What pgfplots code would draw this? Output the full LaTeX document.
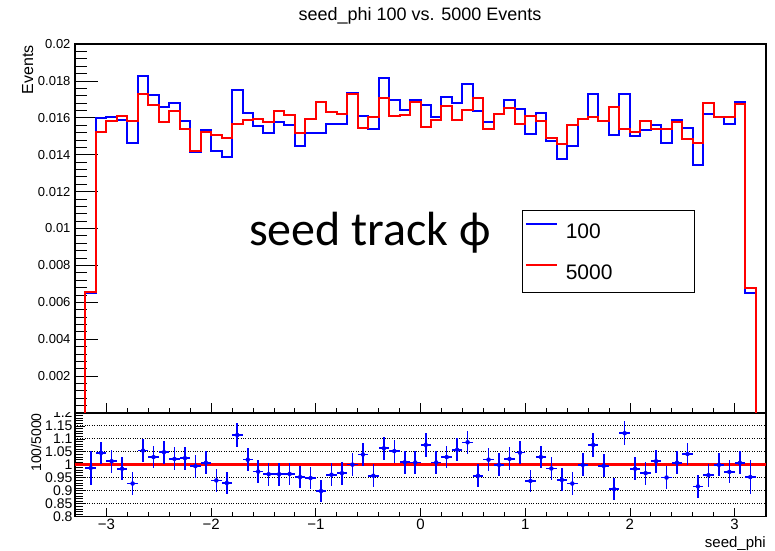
\documentclass[border=0pt]{standalone}
\usepackage{fontspec}
\setmainfont{Liberation Sans}
\newfontfamily\calibri{Carlito}
\usepackage{pgfplots}
\usepackage{pgfplotstable}
\pgfplotsset{compat=1.18}

% left bin edge, 100-event and 5000-event normalised contents
\pgfplotstableread{
x     b       r
-3.2  0       0
-3.2  0.00650 0.00655
-3.1  0.01600 0.01524
-3.0  0.01605 0.01582
-2.9  0.01586 0.01609
-2.8  0.01465 0.01580
-2.7  0.01825 0.01730
-2.6  0.01724 0.01672
-2.5  0.01661 0.01578
-2.4  0.01681 0.01638
-2.3  0.01584 0.01540
-2.2  0.01414 0.01422
-2.1  0.01535 0.01521
-2.0  0.01418 0.01508
-1.9  0.01386 0.01490
-1.8  0.01753 0.01568
-1.7  0.01625 0.01586
-1.6  0.01553 0.01593
-1.5  0.01519 0.01578
-1.4  0.01578 0.01636
-1.3  0.01559 0.01614
-1.2  0.01445 0.01515
-1.1  0.01515 0.01595
-1.0  0.01515 0.01688
-0.9  0.01568 0.01631
-0.8  0.01568 0.01620
-0.7  0.01735 0.01730
-0.6  0.01609 0.01546
-0.5  0.01542 0.01607
-0.4  0.01814 0.01705
-0.3  0.01695 0.01611
-0.2  0.01641 0.01616
-0.1  0.01699 0.01685
0.0   0.01668 0.01550
0.1   0.01602 0.01587
0.2   0.01715 0.01663
0.3   0.01679 0.01587
0.4   0.01784 0.01640
0.5   0.01638 0.01705
0.6   0.01577 0.01542
0.7   0.01618 0.01618
0.8   0.01694 0.01654
0.9   0.01645 0.01569
1.0   0.01510 0.01609
1.1   0.01627 0.01580
1.2   0.01474 0.01492
1.3   0.01375 0.01456
1.4   0.01449 0.01560
1.5   0.01593 0.01593
1.6   0.01728 0.01604
1.7   0.01580 0.01584
1.8   0.01508 0.01661
1.9   0.01730 0.01542
2.0   0.01501 0.01521
2.1   0.01533 0.01582
2.2   0.01559 0.01540
2.3   0.01463 0.01540
2.4   0.01589 0.01578
2.5   0.01544 0.01486
2.6   0.01342 0.01461
2.7   0.01618 0.01681
2.8   0.01605 0.01604
2.9   0.01566 0.01607
3.0   0.01688 0.01674
3.1   0.00650 0.00676
3.2   0.00650 0.00676
3.2   0       0
}\hist

% bin centre, ratio 100/5000, errors
\pgfplotstableread{
x      q      ex    ey
-3.15  0.988  0.05  0.065
-3.05  1.046  0.05  0.044
-2.95  1.014  0.05  0.044
-2.85  0.985  0.05  0.044
-2.75  0.928  0.05  0.044
-2.65  1.055  0.05  0.044
-2.55  1.030  0.05  0.044
-2.45  1.049  0.05  0.044
-2.35  1.023  0.05  0.044
-2.25  1.026  0.05  0.044
-2.15  0.995  0.05  0.044
-2.05  1.008  0.05  0.044
-1.95  0.940  0.05  0.044
-1.85  0.930  0.05  0.044
-1.75  1.115  0.05  0.046
-1.65  1.020  0.05  0.044
-1.55  0.974  0.05  0.044
-1.45  0.964  0.05  0.044
-1.35  0.964  0.05  0.044
-1.25  0.965  0.05  0.044
-1.15  0.953  0.05  0.044
-1.05  0.949  0.05  0.044
-0.95  0.899  0.05  0.042
-0.85  0.962  0.05  0.044
-0.75  0.968  0.05  0.044
-0.65  1.001  0.05  0.044
-0.55  1.040  0.05  0.044
-0.45  0.958  0.05  0.044
-0.35  1.064  0.05  0.045
-0.25  1.053  0.05  0.044
-0.15  1.010  0.05  0.044
-0.05  1.009  0.05  0.044
0.05   1.077  0.05  0.045
0.15   1.009  0.05  0.044
0.25   1.030  0.05  0.044
0.35   1.058  0.05  0.044
0.45   1.087  0.05  0.045
0.55   0.958  0.05  0.044
0.65   1.020  0.05  0.044
0.75   1.000  0.05  0.044
0.85   1.023  0.05  0.044
0.95   1.047  0.05  0.044
1.05   0.938  0.05  0.044
1.15   1.030  0.05  0.044
1.25   0.986  0.05  0.044
1.35   0.942  0.05  0.044
1.45   0.928  0.05  0.044
1.55   1.000  0.05  0.044
1.65   1.077  0.05  0.045
1.75   0.996  0.05  0.044
1.85   0.906  0.05  0.042
1.95   1.122  0.05  0.046
2.05   0.985  0.05  0.044
2.15   0.968  0.05  0.044
2.25   1.014  0.05  0.044
2.35   0.951  0.05  0.044
2.45   1.008  0.05  0.044
2.55   1.042  0.05  0.044
2.65   0.917  0.05  0.043
2.75   0.960  0.05  0.044
2.85   1.000  0.05  0.044
2.95   0.973  0.05  0.044
3.05   1.008  0.05  0.044
3.15   0.953  0.05  0.065
}\ratio

\begin{document}
\begin{tikzpicture}[x=1pt,y=1pt]
\useasboundingbox (0,0) rectangle (775,550);

% ratio pad
\begin{axis}[
  at={(75pt,33.3pt)}, anchor=south west,
  scale only axis, width=691pt, height=103.7pt,
  xmin=-3.3, xmax=3.3, ymin=0.8, ymax=1.2,
  xtick={-3,-2,-1,0,1,2,3},
  xticklabels={−3,−2,−1,0,1,2,3},
  minor x tick num=4,
  ytick={0.8,0.85,0.9,0.95,1,1.05,1.1,1.15,1.2},
  yticklabels={0.8,0.85,0.9,0.95,1,1.05,1.1,1.15,1.2},
  minor y tick num=4,
  xtick pos=bottom, ytick pos=left,
  xtick style={black, line width=0.8pt, /pgfplots/major tick length=9pt, /pgfplots/minor tick length=5pt},
  ytick style={black, line width=0.8pt, /pgfplots/major tick length=10pt, /pgfplots/minor tick length=8pt},
  axis line style={line width=1.2pt},
  ymajorgrids, grid style={black, dotted, line width=1pt},
  xticklabel style={font=\fontsize{15}{15}\selectfont, yshift=1pt},
  yticklabel style={font=\fontsize{14}{14}\selectfont, xshift=1pt},
  scaled y ticks=false,
  /pgf/number format/assume math mode=true,
]
\addplot[red, line width=3pt] coordinates {(-3.3,1) (3.3,1)};
\addplot[blue, only marks, mark=none,
  error bars/.cd, x dir=both, x explicit, y dir=both, y explicit,
  error mark=none, error bar style={blue, line width=1.6pt}]
  table[x=x, y=q, x error=ex, y error=ey] {\ratio};
\end{axis}
\fill[white] (0,137.6) rectangle (73,152);

% main pad
\begin{axis}[
  at={(75pt,137pt)}, anchor=south west,
  scale only axis, width=691pt, height=369pt,
  xmin=-3.3, xmax=3.3, ymin=0, ymax=0.02,
  xtick={-3,-2,-1,0,1,2,3}, xticklabels={},
  minor x tick num=4,
  ytick={0,0.002,0.004,0.006,0.008,0.01,0.012,0.014,0.016,0.018,0.02},
  yticklabels={,0.002,0.004,0.006,0.008,0.01,0.012,0.014,0.016,0.018,0.02},
  scaled y ticks=false,
  minor y tick num=4,
  xtick pos=bottom, ytick pos=left,
  xtick style={black, line width=0.8pt, /pgfplots/major tick length=10pt, /pgfplots/minor tick length=5pt},
  ytick style={black, line width=0.8pt, /pgfplots/major tick length=23pt, /pgfplots/minor tick length=12pt},
  axis line style={line width=1.2pt},
  yticklabel style={font=\fontsize{13}{13}\selectfont, xshift=-1pt},
  /pgf/number format/assume math mode=true,
  legend style={at={(0.6465,0.550)}, anchor=north west,
    line width=0.9pt, fill=white, inner xsep=3pt, inner ysep=0pt,
    font=\fontsize{21}{21}\selectfont, row sep=0pt,
    nodes={inner sep=1pt, text height=27pt, text depth=12pt},
    /tikz/every odd column/.append style={column sep=7pt}},
  legend cell align=left,
  legend image code/.code={\draw[#1, line width=1.6pt] (0pt,7pt) -- (31pt,7pt);},
]
\addplot[blue, line width=2pt, const plot mark left] table[x=x, y=b] {\hist};
\addlegendentry{\makebox[125pt][l]{100}}
\addplot[red, line width=2pt, const plot mark left] table[x=x, y=r] {\hist};
\addlegendentry{\makebox[125pt][l]{5000}}
\end{axis}

\node[anchor=base, inner sep=0, font=\fontsize{18}{18}\selectfont] at (420,529) {seed\_phi 100 vs. 5000 Events};
\node[anchor=base east, rotate=90, inner sep=0, font=\fontsize{16}{16}\selectfont] at (33,505) {Events};
\node[anchor=base, rotate=90, inner sep=0, font=\fontsize{14}{14}\selectfont] at (41,107.5) {100/5000};
\node[anchor=base east, inner sep=0, font=\fontsize{15}{15}\selectfont] at (766,3) {seed\_phi};
\node[anchor=base west, inner sep=0, font=\calibri\fontsize{48}{48}\selectfont] at (249,305) {seed track ϕ};
\end{tikzpicture}
\end{document}
